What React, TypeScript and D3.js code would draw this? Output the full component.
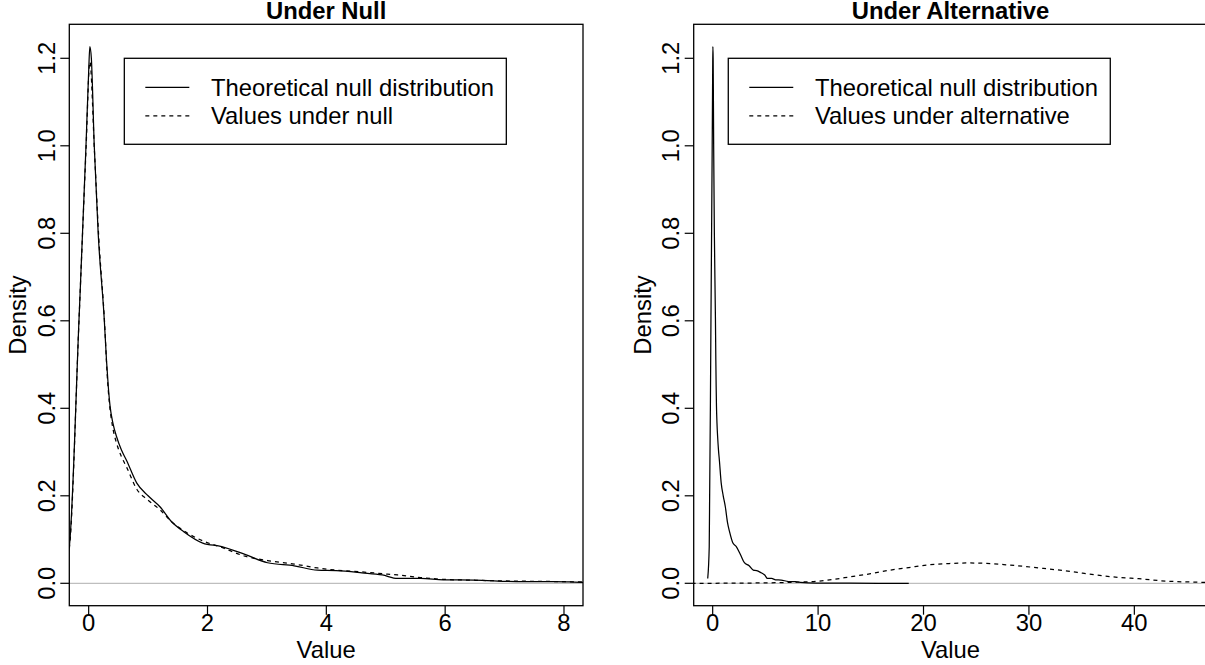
import React from "react";
import * as d3 from "d3";

// ---------- data ----------
const theoreticalNull: [number, number][] = [
  [-0.47, 0.011], [-0.326, 0.084], [-0.163, 0.602], [-0.045, 1.0], [0.0, 1.17],
  [0.02, 1.2265], [0.045, 1.2], [0.094, 1.0], [0.16, 0.8], [0.263, 0.602],
  [0.3, 0.51], [0.33, 0.45], [0.36, 0.405], [0.41, 0.365], [0.47, 0.335],
  [0.55, 0.305], [0.64, 0.28], [0.81, 0.229], [1.0, 0.2],
  [1.2, 0.175], [1.4, 0.14], [1.6, 0.118], [1.92, 0.092], [2.24, 0.084],
  [2.63, 0.066], [3.01, 0.047], [3.46, 0.04], [3.85, 0.03], [4.17, 0.029],
  [4.6, 0.024], [4.94, 0.019], [5.2, 0.011], [5.59, 0.011], [5.97, 0.008],
  [6.49, 0.0075], [7.2, 0.004], [7.84, 0.004], [8.32, 0.002], [9.85, 0.0005],
  [13, 0.0002], [18.6, 0.0],
];

const valuesUnderNull: [number, number][] = [
  [-0.47, 0.01], [-0.326, 0.08], [-0.163, 0.6], [-0.045, 0.99], [0.02, 1.192],
  [0.1, 0.98], [0.17, 0.79], [0.27, 0.59], [0.31, 0.48], [0.35, 0.41],
  [0.4, 0.36], [0.47, 0.32], [0.55, 0.29], [0.64, 0.265], [0.81, 0.215],
  [1.0, 0.19], [1.2, 0.168], [1.4, 0.14],
  [1.6, 0.12], [1.92, 0.097], [2.24, 0.082], [2.63, 0.062], [3.01, 0.052],
  [3.46, 0.044], [3.85, 0.035], [4.17, 0.03], [4.6, 0.026], [4.94, 0.022],
  [5.2, 0.019], [5.59, 0.013], [5.97, 0.009], [6.49, 0.007], [7.2, 0.005],
  [7.84, 0.004], [8.32, 0.003],
];

const valuesUnderAlt: [number, number][] = [
  [-2, 0.0], [2, 0.0003], [5, 0.001], [8, 0.0025], [9.8, 0.0045], [11.5, 0.009],
  [13.1, 0.015], [15, 0.022], [16.8, 0.03], [18.6, 0.036], [20.4, 0.042],
  [22.3, 0.045], [24.1, 0.0465], [26, 0.0455], [28, 0.042], [31.4, 0.034],
  [34.1, 0.0265], [35.1, 0.023], [38.7, 0.013], [40.4, 0.0105], [42.4, 0.006],
  [46.4, 0.0023], [48, 0.0015],
];

const yTicks = [0, 0.2, 0.4, 0.6, 0.8, 1.0, 1.2];
const leftXTicks = [0, 2, 4, 6, 8];
const rightXTicks = [0, 10, 20, 30, 40];
const leftXDomain: [number, number] = [-0.326, 8.32];
const rightXDomain: [number, number] = [-1.8, 46.93];
const yDomain: [number, number] = [-0.0512, 1.2777];

const leftLegend = ["Theoretical null distribution", "Values under null"];
const rightLegend = ["Theoretical null distribution", "Values under alternative"];

// ---------- layout ----------
const W = 1205;
const H = 665;
const TOP = 24.3;
const BOTTOM = 605.7;
const FONT = "'Liberation Sans', Arial, Helvetica, sans-serif";
const FS = 23.8;
const DASH = "4,4";

type PanelProps = {
  id: string;
  left: number;
  right: number;
  xDomain: [number, number];
  xTicks: number[];
  title: string;
  solid: [number, number][];
  dashed: [number, number][];
  legend: string[];
  legendX: number;
};

function Panel(p: PanelProps) {
  const x = d3.scaleLinear().domain(p.xDomain).range([p.left, p.right]);
  const y = d3.scaleLinear().domain(yDomain).range([BOTTOM, TOP]);
  const line = d3
    .line<[number, number]>()
    .x((d) => x(d[0]))
    .y((d) => y(d[1]))
    .curve(d3.curveMonotoneX);
  const cx = (p.left + p.right) / 2;
  const cy = (TOP + BOTTOM) / 2;
  const tick = 9;
  const lx = x(p.legendX);
  const ly = y(1.2);
  const legendW = 382;
  const legendH = 86;
  return (
    <g>
      <defs>
        <clipPath id={p.id}>
          <rect x={p.left} y={TOP} width={p.right - p.left} height={BOTTOM - TOP} />
        </clipPath>
      </defs>
      <text x={cx} y={18.5} textAnchor="middle" fontWeight="bold" fontSize={FS} fontFamily={FONT}>
        {p.title}
      </text>
      <g clipPath={`url(#${p.id})`}>
        <line x1={p.left} x2={p.right} y1={y(0)} y2={y(0)} stroke="#BEBEBE" strokeWidth={1.3} />
        <path d={line(p.solid) || ""} fill="none" stroke="#000" strokeWidth={1.25} />
        <path d={line(p.dashed) || ""} fill="none" stroke="#000" strokeWidth={1.25} strokeDasharray={DASH} />
      </g>
      <rect x={p.left} y={TOP} width={p.right - p.left} height={BOTTOM - TOP} fill="none" stroke="#000" strokeWidth={1.3} />
      {p.xTicks.map((t) => (
        <g key={"x" + t}>
          <line x1={x(t)} x2={x(t)} y1={BOTTOM} y2={BOTTOM + tick} stroke="#000" strokeWidth={1.2} />
          <text x={x(t)} y={631} textAnchor="middle" fontSize={FS} fontFamily={FONT}>
            {String(t)}
          </text>
        </g>
      ))}
      {yTicks.map((t) => (
        <g key={"y" + t}>
          <line x1={p.left - tick} x2={p.left} y1={y(t)} y2={y(t)} stroke="#000" strokeWidth={1.2} />
          <text
            transform={`translate(${p.left - 14.3},${y(t)}) rotate(-90)`}
            textAnchor="middle"
            fontSize={FS}
            fontFamily={FONT}
          >
            {t.toFixed(1)}
          </text>
        </g>
      ))}
      <text x={cx} y={658} textAnchor="middle" fontSize={FS} fontFamily={FONT}>
        Value
      </text>
      <text
        transform={`translate(${p.left - 43},${cy}) rotate(-90)`}
        textAnchor="middle"
        fontSize={FS}
        fontFamily={FONT}
      >
        Density
      </text>
      <rect x={lx} y={ly} width={legendW} height={legendH} fill="#fff" stroke="#000" strokeWidth={1.3} />
      {p.legend.map((s, i) => {
        const yy = ly + 29 + i * 28.7;
        return (
          <g key={s}>
            <line
              x1={lx + 21}
              x2={lx + 65}
              y1={yy}
              y2={yy}
              stroke="#000"
              strokeWidth={1.25}
              strokeDasharray={i === 1 ? DASH : undefined}
            />
            <text x={lx + 86.7} y={yy + 8.5} fontSize={FS} fontFamily={FONT}>
              {s}
            </text>
          </g>
        );
      })}
    </g>
  );
}

export default function App() {
  return (
    <svg
      width={W}
      height={H}
      viewBox={`0 0 ${W} ${H}`}
      style={{ position: "absolute", left: 0, top: 0, background: "#fff" }}
    >
      <rect x={0} y={0} width={W} height={H} fill="#fff" />
      <Panel
        id="clipL"
        left={69.3}
        right={583}
        xDomain={leftXDomain}
        xTicks={leftXTicks}
        title="Under Null"
        solid={theoreticalNull}
        dashed={valuesUnderNull}
        legend={leftLegend}
        legendX={0.6}
      />
      <Panel
        id="clipR"
        left={693.7}
        right={1207.4}
        xDomain={rightXDomain}
        xTicks={rightXTicks}
        title="Under Alternative"
        solid={theoreticalNull}
        dashed={valuesUnderAlt}
        legend={rightLegend}
        legendX={1.48}
      />
    </svg>
  );
}
